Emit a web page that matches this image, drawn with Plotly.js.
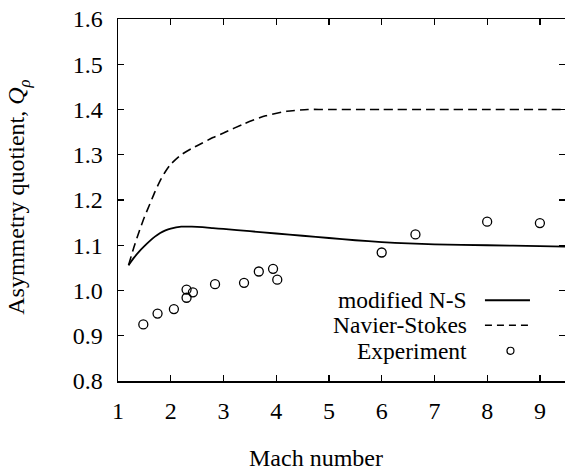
<!DOCTYPE html>
<html>
<head>
<meta charset="utf-8">
<script src="https://cdn.plot.ly/plotly-3.0.1.min.js"></script>
<style>html,body{margin:0;padding:0;background:#fff;}#chart{width:565px;height:472px;}</style>
</head>
<body>
<div id="chart"></div>
<script>
// Modified N-S (solid)
const machMNS = [1.2, 1.3, 1.4, 1.5, 1.6, 1.7, 1.8, 1.9, 2.0, 2.2, 2.4, 2.6, 2.8, 3.0, 3.5, 4.0, 4.5, 5.0, 5.5, 6.0, 6.5, 7.0, 8.0, 9.0, 9.5];
const qMNS    = [1.056, 1.072, 1.086, 1.098, 1.109, 1.119, 1.127, 1.133, 1.137, 1.141, 1.141, 1.140, 1.138, 1.136, 1.131, 1.126, 1.121, 1.116, 1.111, 1.107, 1.104, 1.102, 1.100, 1.098, 1.097];
// Navier-Stokes (dashed)
const machNS = [1.2, 1.3, 1.4, 1.5, 1.6, 1.7, 1.8, 1.9, 2.0, 2.2, 2.4, 2.6, 2.8, 3.0, 3.4, 3.8, 4.2, 4.6, 5.0, 6.0, 7.0, 8.0, 9.0, 9.5];
const qNS    = [1.056, 1.095, 1.130, 1.162, 1.190, 1.218, 1.243, 1.263, 1.279, 1.300, 1.314, 1.326, 1.338, 1.348, 1.369, 1.386, 1.396, 1.400, 1.400, 1.400, 1.400, 1.400, 1.400, 1.400];
// Experiment (open circles)
const machExp = [1.48, 1.75, 2.06, 2.30, 2.30, 2.42, 2.84, 3.39, 3.67, 3.94, 4.02, 6.00, 6.64, 8.00, 9.00];
const qExp    = [0.925, 0.949, 0.959, 1.002, 0.984, 0.996, 1.014, 1.017, 1.042, 1.048, 1.024, 1.084, 1.124, 1.152, 1.149];

const legendNames = ["modified N-S", "Navier-Stokes", "Experiment"];
const xTicks = [1, 2, 3, 4, 5, 6, 7, 8, 9];
const yTicks = [0.8, 0.9, 1.0, 1.1, 1.2, 1.3, 1.4, 1.5, 1.6];

const FONT = "Liberation Serif";

const traces = [
  {x: machMNS, y: qMNS, mode: 'lines', line: {color: '#000', width: 1.8, shape: 'spline', smoothing: 0.6}, showlegend: false, name: legendNames[0]},
  {x: machNS, y: qNS, mode: 'lines', line: {color: '#000', width: 1.6, dash: '9px,5px', shape: 'spline', smoothing: 0.6}, showlegend: false, name: legendNames[1]},
  {x: machExp, y: qExp, mode: 'markers', marker: {symbol: 'circle-open', size: 9, color: '#000', line: {width: 1.3, color: '#000'}}, showlegend: false, name: legendNames[2]}
];

const axisCommon = {
  showgrid: false, zeroline: false, showline: true, linecolor: '#000', linewidth: 1.5,
  mirror: 'allticks', ticks: 'inside', ticklen: 6, tickwidth: 1.2, tickcolor: '#000',
  tickfont: {family: FONT, size: 24, color: '#000'}
};

// legend geometry (paper coords)
const L = {x0: 118.3, x1: 565, y0: 19, y1: 380.7};
const px = v => (v - L.x0) / (L.x1 - L.x0);
const py = v => 1 - (v - L.y0) / (L.y1 - L.y0);
const legRows = [300, 325, 350.5];

const annotations = [
  {xref: 'paper', yref: 'paper', x: px(316.5), y: py(458), text: 'Mach number', showarrow: false,
   font: {family: FONT, size: 24, color: '#000'}, xanchor: 'center', yanchor: 'middle'},
  {xref: 'paper', yref: 'paper', x: px(19), y: py(197), text: 'Asymmetry quotient, <i>Q</i><sub><i>ρ</i></sub>', showarrow: false,
   textangle: -90, font: {family: FONT, size: 24, color: '#000'}, xanchor: 'center', yanchor: 'middle'}
];
legendNames.forEach((n, i) => {
  annotations.push({xref: 'paper', yref: 'paper', x: px(469), y: py(legRows[i]), text: n, showarrow: false,
    font: {family: FONT, size: 23.5, color: '#000'}, xanchor: 'right', yanchor: 'middle'});
});

const shapes = [
  {type: 'line', xref: 'paper', yref: 'paper', x0: px(485), x1: px(530), y0: py(legRows[0]), y1: py(legRows[0]), line: {color: '#000', width: 1.8}},
  {type: 'line', xref: 'paper', yref: 'paper', x0: px(485), x1: px(530), y0: py(legRows[1]), y1: py(legRows[1]), line: {color: '#000', width: 1.6, dash: '7px,5px'}},
  {type: 'circle', xref: 'paper', yref: 'paper', x0: px(507), x1: px(514), y0: py(legRows[2] - 3.5), y1: py(legRows[2] + 3.5), line: {color: '#000', width: 1.2}}
];

const layout = {
  width: 565, height: 472,
  margin: {l: 118.3, r: 0, t: 19, b: 91.3},
  paper_bgcolor: '#fff', plot_bgcolor: '#fff',
  font: {family: FONT, color: '#000'},
  showlegend: false,
  xaxis: Object.assign({}, axisCommon, {range: [1, 9.476], tickvals: xTicks, ticktext: xTicks.map(String), ticklabelstandoff: 8}),
  yaxis: Object.assign({}, axisCommon, {range: [0.8, 1.6], tickvals: yTicks, ticktext: yTicks.map(v => v.toFixed(1)), ticklabelstandoff: 9}),
  annotations: annotations,
  shapes: shapes
};

Plotly.newPlot('chart', traces, layout, {displayModeBar: false, staticPlot: true});
</script>
</body>
</html>
